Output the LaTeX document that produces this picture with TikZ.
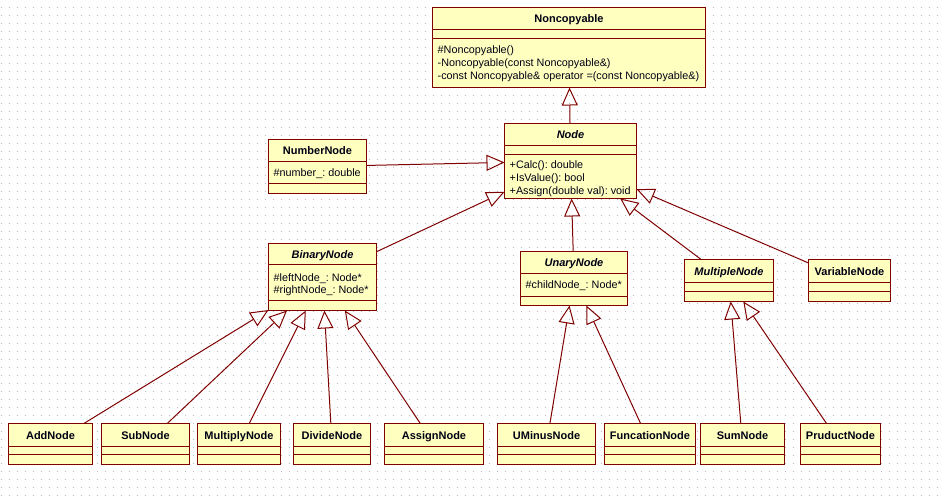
\documentclass[tikz,border=0pt]{standalone}
\usepackage{fontspec}
\setmainfont{Liberation Sans}
\usetikzlibrary{arrows.meta}
\frenchspacing

\definecolor{umlline}{RGB}{128,0,0}
\definecolor{umlfill}{RGB}{255,255,192}
\definecolor{griddot}{RGB}{185,185,190}
\definecolor{umltext}{RGB}{0,0,20}

\tikzset{
  cls/.style={draw=umlline, fill=umlfill, line width=1pt, rectangle,
              inner sep=0pt, outer sep=0pt, anchor=north west},
  sepline/.style={draw=umlline, line width=1pt},
  title/.style={font=\bfseries\fontsize{11}{13}\selectfont, text=umltext,
                inner sep=0pt, text height=8pt, text depth=0pt, anchor=center},
  abstitle/.style={title, font=\bfseries\itshape\fontsize{11}{13}\selectfont},
  member/.style={font=\fontsize{10.8}{13}\selectfont, text=umltext,
                 inner sep=0pt, text height=8pt, text depth=0pt, anchor=west},
  inh/.style={draw=umlline, line width=1pt,
              -{Triangle[open, length=18pt, width=16pt, line width=1pt]}},
  griddots/.style={draw=griddot, line width=1pt, dash pattern=on 1pt off 7pt},
}

% class box: name, x1, y1, x2, y2, first separator, second separator
\newcommand\umlclass[7]{%
  \node[cls, minimum width={#4-#2}, minimum height={#5-#3}] (#1) at (#2,#3) {};
  \draw[sepline] (#2,#6) -- (#4,#6);
  \draw[sepline] (#2,#7) -- (#4,#7);
}

\begin{document}
\begin{tikzpicture}[x=1pt, y=-1pt]
  \useasboundingbox (0,0) rectangle (941,499);
  \fill[white] (0,0) rectangle (941,499);

  % dotted canvas grid
  \foreach \gy in {7,15,...,495}
    \draw[griddots] (1,\gy+0.5) -- (941,\gy+0.5);

  \begin{scope}[shift={(0.5,0.5)}]
  % ---- classes ----
  \umlclass{nc}{432}{7}{705}{87}{29}{38}
  \node[title] (nc-t) at (568.5,17.5) {Noncopyable};
  \node[member] (nc-m1) at (437,49) {\#Noncopyable()};
  \node[member] (nc-m2) at (437,62) {-Noncopyable(const Noncopyable\&)};
  \node[member] (nc-m3) at (437,75) {-const Noncopyable\& operator =(const Noncopyable\&)};

  \umlclass{node}{504}{123}{636}{198}{145}{154}
  \node[abstitle] (node-t) at (570,134) {Node};
  \node[member] (node-m1) at (509,164) {+Calc(): double};
  \node[member] (node-m2) at (509,177) {+IsValue(): bool};
  \node[member] (node-m3) at (509,190) {+Assign(double val): void};

  \umlclass{num}{268}{139}{366}{193}{161}{183}
  \node[title] (num-t) at (317,150) {NumberNode};
  \node[member] (num-a1) at (273,172) {\#number\_: double};

  \umlclass{bin}{268}{243}{376}{310}{264}{300}
  \node[abstitle] (bin-t) at (322,253.5) {BinaryNode};
  \node[member] (bin-a1) at (273,277) {\#leftNode\_: Node*};
  \node[member] (bin-a2) at (273,289) {\#rightNode\_: Node*};

  \umlclass{una}{520}{251}{627}{305}{273}{296}
  \node[abstitle] (una-t) at (573.5,262) {UnaryNode};
  \node[member] (una-a1) at (525,284) {\#childNode\_: Node*};

  \umlclass{mul}{684}{259}{773}{301}{282}{291}
  \node[abstitle] (mul-t) at (728.5,270.5) {MultipleNode};

  \umlclass{var}{808}{259}{890}{301}{282}{291}
  \node[title] (var-t) at (849,270.5) {VariableNode};

  \umlclass{add}{8}{423}{92}{464}{446}{454}
  \node[title] (add-t) at (50,434.5) {AddNode};
  \umlclass{sub}{101}{423}{189}{464}{446}{454}
  \node[title] (sub-t) at (145,434.5) {SubNode};
  \umlclass{mlt}{197}{423}{280}{464}{446}{454}
  \node[title] (mlt-t) at (238.5,434.5) {MultiplyNode};
  \umlclass{div}{293}{423}{370}{464}{446}{454}
  \node[title] (div-t) at (331.5,434.5) {DivideNode};
  \umlclass{asg}{384}{423}{483}{464}{446}{454}
  \node[title] (asg-t) at (433.5,434.5) {AssignNode};
  \umlclass{umi}{497}{423}{595}{464}{446}{454}
  \node[title] (umi-t) at (546,434.5) {UMinusNode};
  \umlclass{fun}{604}{423}{695}{464}{446}{454}
  \node[title] (fun-t) at (649.5,434.5) {FuncationNode};
  \umlclass{sum}{700}{423}{784}{464}{446}{454}
  \node[title] (sum-t) at (742,434.5) {SumNode};
  \umlclass{prd}{800}{423}{880}{464}{446}{454}
  \node[title] (prd-t) at (840,434.5) {PruductNode};

  % ---- generalisations ----
  \draw[inh] (node) -- (nc);
  \draw[inh] (num) -- (node);
  \draw[inh] (bin) -- (node);
  \draw[inh] (una) -- (node);
  \draw[inh] (mul) -- (node);
  \draw[inh] (var) -- (node);

  \draw[inh] (add) -- (bin);
  \draw[inh] (sub) -- (bin);
  \draw[inh] (mlt) -- (bin);
  \draw[inh] (div) -- (bin);
  \draw[inh] (asg) -- (bin);

  \draw[inh] (umi) -- (una);
  \draw[inh] (fun) -- (una);

  \draw[inh] (sum) -- (mul);
  \draw[inh] (prd) -- (mul);
  \end{scope}
\end{tikzpicture}
\end{document}
